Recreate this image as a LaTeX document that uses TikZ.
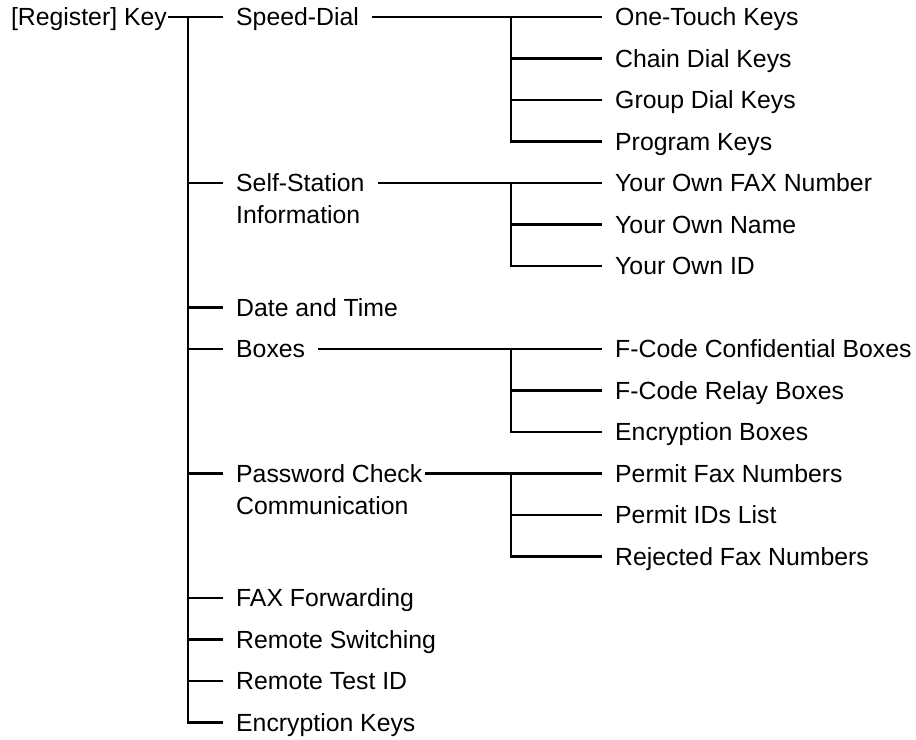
\documentclass[tikz,border=0pt]{standalone}
\usepackage{fontspec}
\setmainfont{Liberation Sans}
\usetikzlibrary{calc}

\begin{document}
\begin{tikzpicture}[x=0.5pt, y=-20.75pt, line width=1.2pt,
  lbl/.style={font=\fontsize{12.4}{16}\selectfont, inner xsep=6pt, inner ysep=0pt, text height=8.9pt, text depth=0pt, anchor=west},
  twolines/.style={align=left, yshift=-16pt}]

\useasboundingbox (0,-0.41) rectangle (916,17.42);

% Root
\node[lbl, anchor=east, inner xsep=0pt] (root) at (168,0) {[Register] Key};
\coordinate (trunk) at (188,0);

% First level
\node[lbl] (sd) at (223,0) {Speed-Dial};
\node[lbl, twolines] (ssi) at (223,4) {Self-Station\\Information};
\node[lbl] (dt) at (223,7) {Date and Time};
\node[lbl] (bx) at (223,8) {Boxes};
\node[lbl, twolines] (pcc) at (223,11) {Password Check\\Communication};
\node[lbl] (ff) at (223,14) {FAX Forwarding};
\node[lbl] (rs) at (223,15) {Remote Switching};
\node[lbl] (rt) at (223,16) {Remote Test ID};
\node[lbl] (ek) at (223,17) {Encryption Keys};

% Second level
\node[lbl] (sd1) at (602,0) {One-Touch Keys};
\node[lbl] (sd2) at (602,1) {Chain Dial Keys};
\node[lbl] (sd3) at (602,2) {Group Dial Keys};
\node[lbl] (sd4) at (602,3) {Program Keys};
\node[lbl] (ssi1) at (602,4) {Your Own FAX Number};
\node[lbl] (ssi2) at (602,5) {Your Own Name};
\node[lbl] (ssi3) at (602,6) {Your Own ID};
\node[lbl] (bx1) at (602,8) {F-Code Confidential Boxes};
\node[lbl] (bx2) at (602,9) {F-Code Relay Boxes};
\node[lbl] (bx3) at (602,10) {Encryption Boxes};
\node[lbl] (pcc1) at (602,11) {Permit Fax Numbers};
\node[lbl] (pcc2) at (602,12) {Permit IDs List};
\node[lbl] (pcc3) at (602,13) {Rejected Fax Numbers};

% Main trunk
\draw (root.east) -- (sd.west);
\draw (trunk) |- (ek.west);
\foreach \n in {ssi1,dt,bx,pcc1,ff,rs,rt} {
  \draw (trunk |- \n.west) -- (223,0 |- \n.west);
}

% Sub trunks
\foreach \p/\a/\b in {sd/sd1/sd4, ssi/ssi1/ssi3, bx/bx1/bx3} {
  \draw (\p.east |- \a.west) -- (\a.west);
  \draw (511,0 |- \a.west) |- (\b.west);
}
\draw[shorten <=-5pt] (pcc.east |- pcc1.west) -- (pcc1.west);
\draw (511,0 |- pcc1.west) |- (pcc3.west);
\foreach \c in {sd2,sd3,ssi2,bx2,pcc2} {
  \draw (511,0 |- \c.west) -- (\c.west);
}

\end{tikzpicture}
\end{document}
